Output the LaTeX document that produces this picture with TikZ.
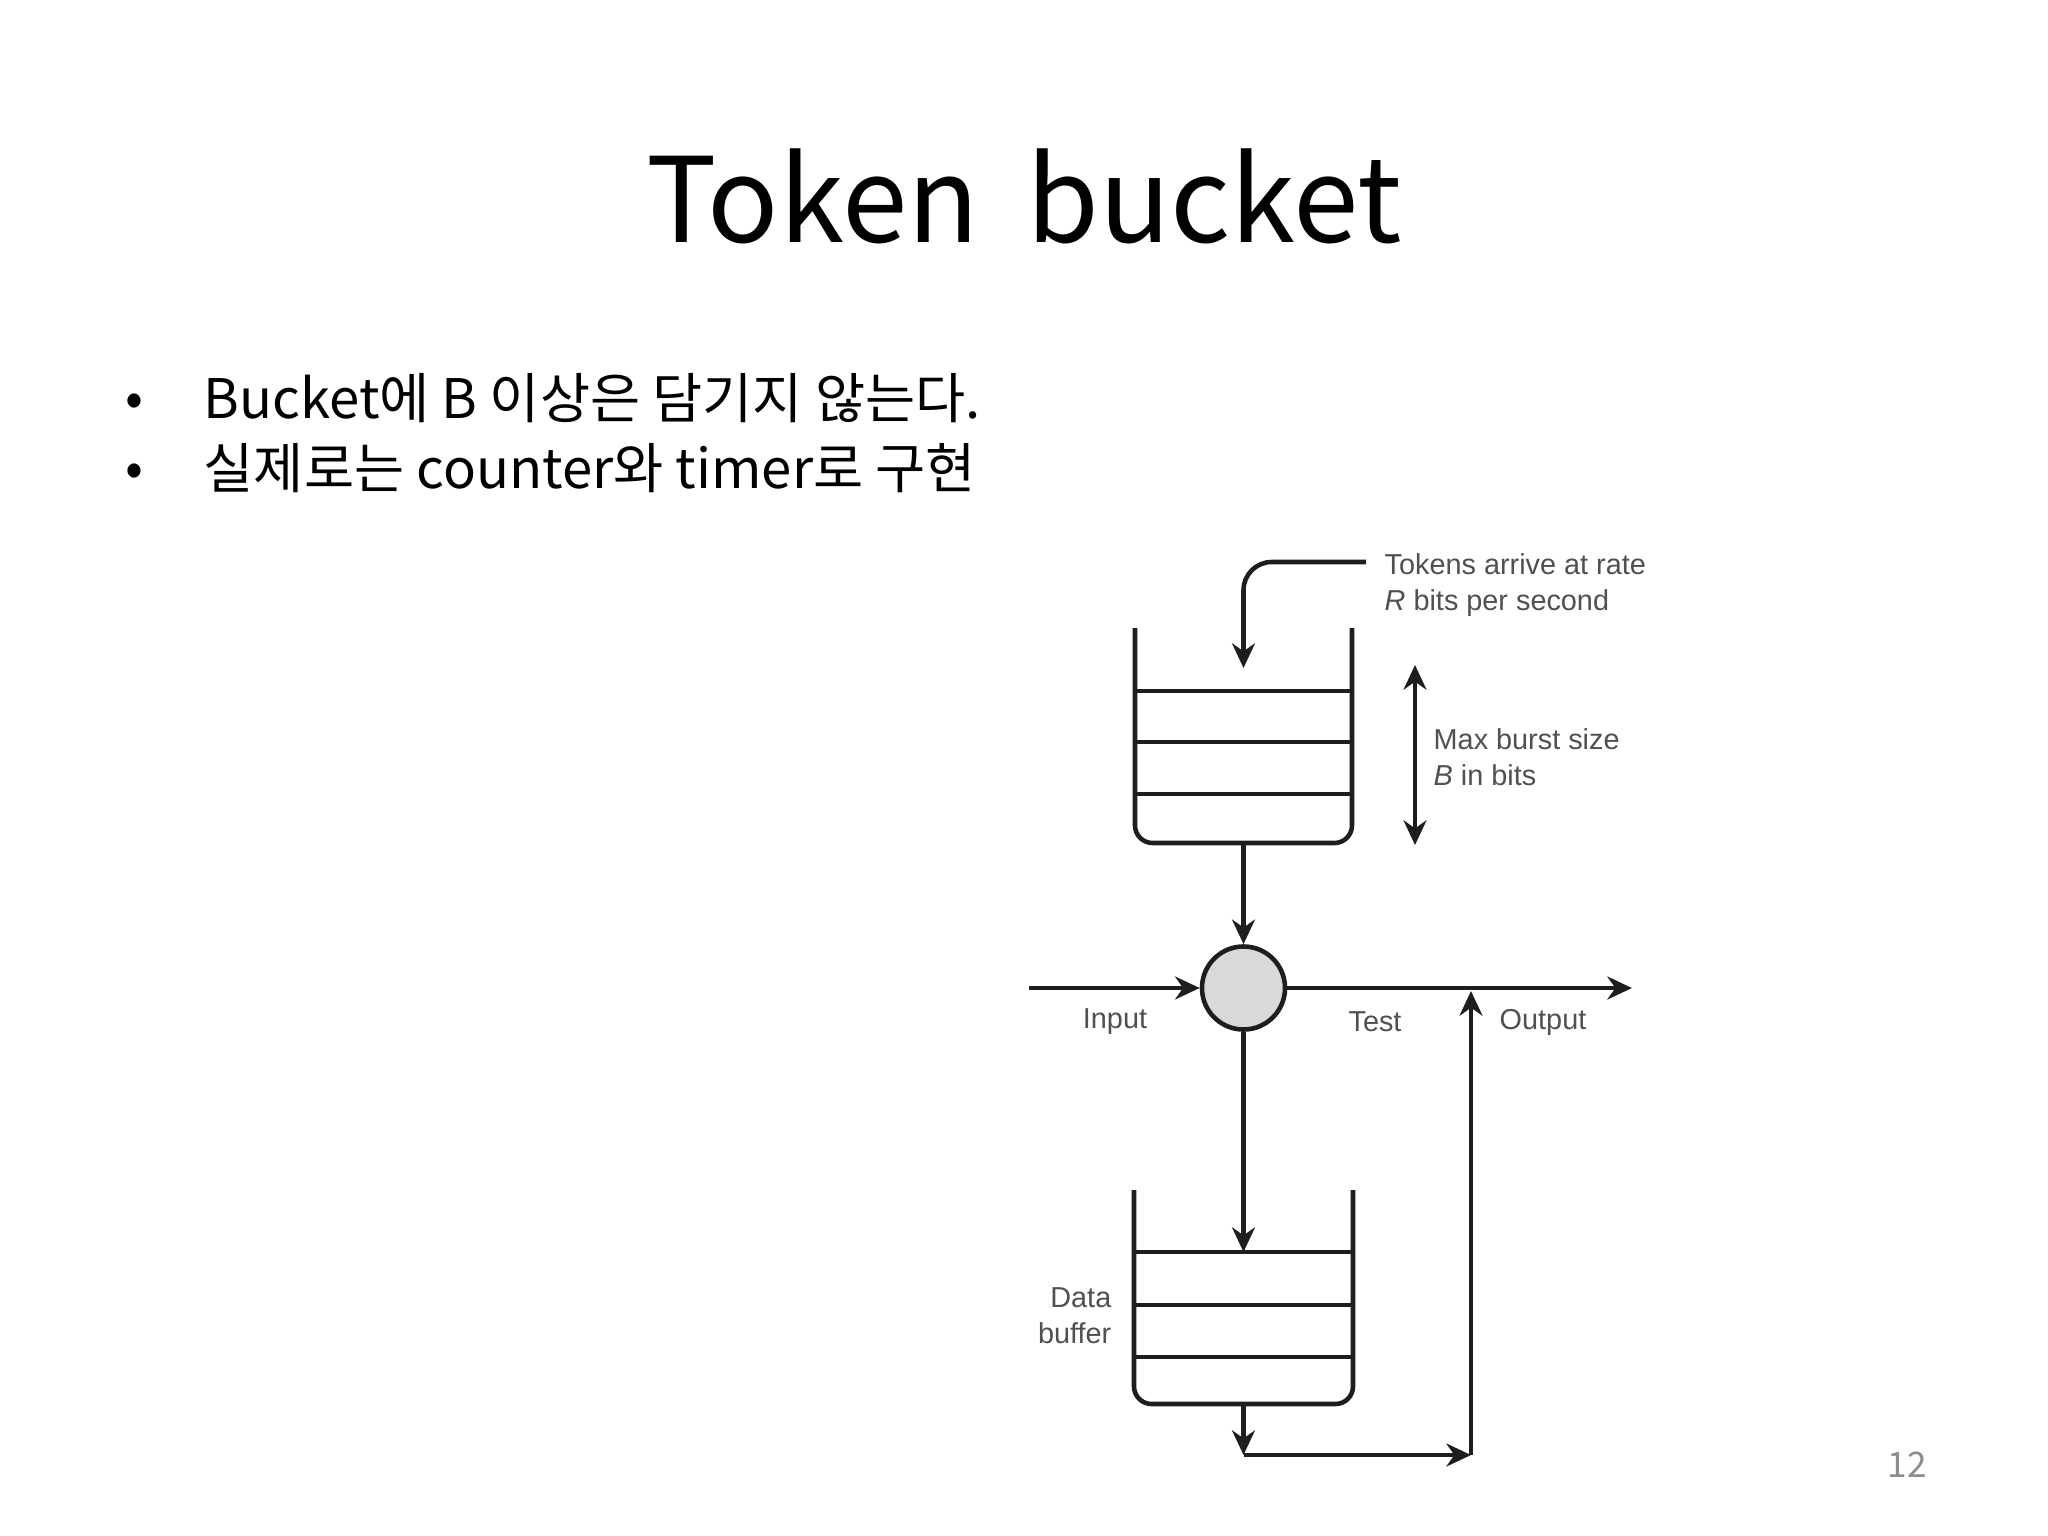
\documentclass[tikz,border=0pt]{standalone}
\usepackage{fontspec}
\setmainfont{Noto Sans CJK KR}
\newfontfamily\figfont{Liberation Sans}
\usetikzlibrary{arrows.meta,positioning,calc}
\definecolor{ink}{HTML}{1E1E1E}
\definecolor{figgray}{HTML}{505050}
\definecolor{testfill}{HTML}{D9D9D9}
\definecolor{pagegray}{HTML}{8C8C8C}

\begin{document}
\begin{tikzpicture}[x=0.01cm,y=-0.01cm,
  line/.style={ink,line width=1.3pt},
  arr/.style={line,-{Stealth[length=7pt,width=6.5pt]}},
  arrs/.style={line,{Stealth[length=7pt,width=6.5pt]}-{Stealth[length=7pt,width=6.5pt]}},
  lbl/.style={figgray,font=\figfont\fontsize{8.2}{10.2}\selectfont,inner sep=0pt},
  test/.style={circle,draw=ink,line width=1.3pt,fill=testfill,minimum size=0.83cm,inner sep=0pt},
  item/.style={anchor=base west,font=\fontsize{15.5}{20}\selectfont,inner sep=0pt}]
\fill[white] (0,0) rectangle (2048,1536);
\useasboundingbox (0,0) rectangle (2048,1536);

% slide text
\node[font=\fontsize{33.5}{40}\selectfont,anchor=base] (title) at (1024,242) {Token\hspace{6pt} bucket};
\node[font=\fontsize{15}{20}\selectfont,inner sep=0pt] (dot1) at (134,405) {•};
\node[font=\fontsize{15}{20}\selectfont,inner sep=0pt] (dot2) at (134,475) {•};
\node[item] (item1) at (203,418) {Bucket에 B 이상은 담기지 않는다.};
\node[item] (item2) at (203,488) {실제로는 counter와 timer로 구현};
\node[pagegray,font=\fontsize{10}{12}\selectfont] (pageno) at (1907,1465) {12};

% token bucket
\draw[line,rounded corners=5pt] (1135,628) -- (1135,843) -- (1352,843) -- (1352,628);
\foreach \y in {691,742,794} \draw[line] (1135,\y) -- (1352,\y);

% data buffer
\draw[line,rounded corners=5pt] (1134,1190) -- (1134,1404) -- (1353,1404) -- (1353,1190);
\foreach \y in {1252,1305,1357} \draw[line] (1134,\y) -- (1353,\y);

\node[test] (test) at (1243.5,988) {};

\coordinate (tokin) at (1366,562);
\coordinate (tokdown) at (1243.5,668);
\coordinate (tbout) at (1243.5,843);
\coordinate (bt) at (1415,665);
\coordinate (bb) at (1415,845);
\coordinate (in) at (1029,988);
\coordinate (out) at (1632,988);
\coordinate (dbin) at (1243.5,1252);
\coordinate (dbout) at (1243.5,1404);
\coordinate (c1) at (1243.5,1455);
\coordinate (c2) at (1471,1455);
\coordinate (c3) at (1471,991);

\draw[arr,rounded corners=8pt] (tokin) -| (tokdown);
\draw[arrs] (bt) -- (bb);
\draw[arr] (tbout) -- (test.north);
\draw[arr] (in) -- (test.west);
\draw[arr] (test.east) -- (out);
\draw[arr] (test.south) -- (dbin);
\draw[arr] (dbout) -- (c1);
\draw[arr] (c1) -- (c2);
\draw[arr] (c2) -- (c3);

% labels
\node[lbl,anchor=west,align=left] (tokens) at (1384,585) {Tokens arrive at rate\\\textit{R} bits per second};
\node[lbl,anchor=west,align=left] (burst) at (1433,757) {Max burst size\\\textit{B} in bits};
\node[lbl,anchor=east,align=right] (buffer) at (1112,1316) {Data\\buffer};
\node[lbl] (input) at (1115,1022) {Input};
\node[lbl] (testlbl) at (1375,1022) {Test};
\node[lbl] (output) at (1543,1022) {Output};
\end{tikzpicture}
\end{document}
